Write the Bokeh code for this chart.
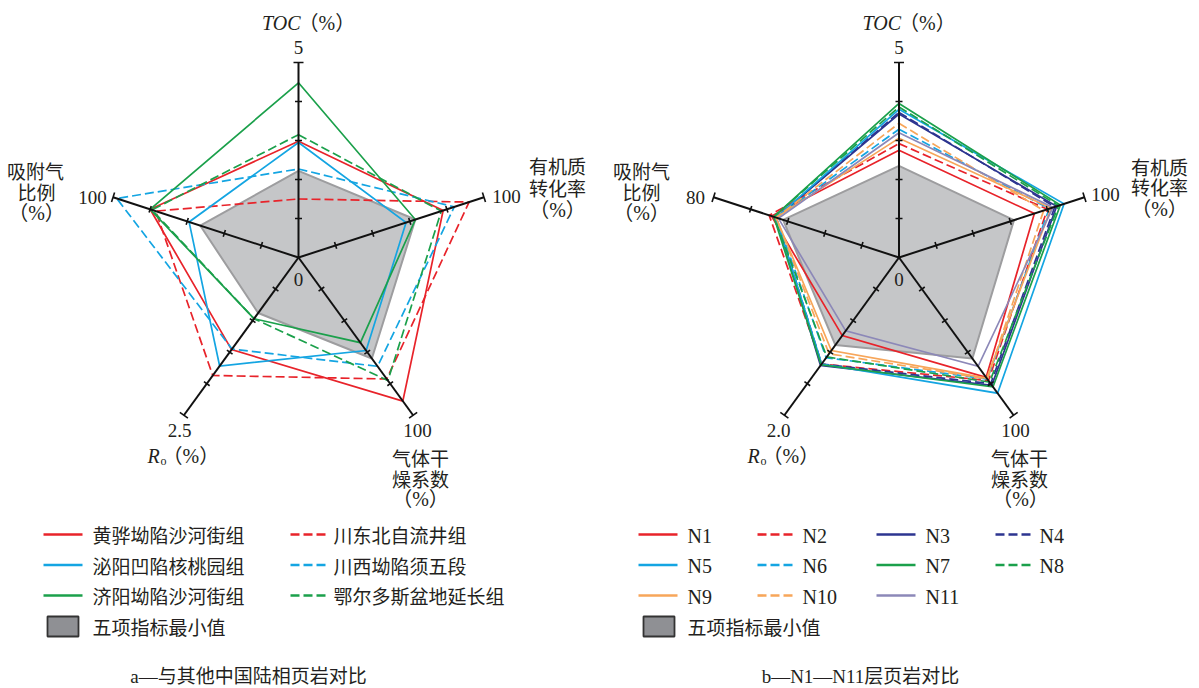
import math
from bokeh.plotting import figure
from bokeh.models import Range1d
from bokeh.core.properties import value
from bokeh.embed import file_html
from bokeh.resources import INLINE

# ---------------- data ----------------
axis_keys = ["TOC", "有机质转化率", "气体干燥系数", "Ro", "吸附气比例"]
axis_max_a = [5, 100, 100, 2.5, 100]
axis_max_b = [5, 100, 100, 2.0, 80]
axis_max_labels_a = ["5", "100", "100", "2.5", "100"]
axis_max_labels_b = ["5", "100", "100", "2.0", "80"]

names_a = ["黄骅坳陷沙河街组", "川东北自流井组", "泌阳凹陷核桃园组",
           "川西坳陷须五段", "济阳坳陷沙河街组", "鄂尔多斯盆地延长组"]
huanghua = [2.98, 78, 91, 1.46, 80]
chuandongbei = [1.5, 92, 77, 1.87, 77]
biyang = [2.95, 58, 59, 1.72, 59]
chuanxi = [2.27, 84, 69, 1.45, 98]
jiyang = [4.48, 63, 54, 0.97, 80]
ordos = [3.15, 77, 78, 0.97, 79]
min_a = [2.22, 63, 64, 0.88, 53]

names_b = ["N1", "N2", "N3", "N4", "N5", "N6", "N7", "N8", "N9", "N10", "N11"]
N1 = [2.75, 73, 76, 0.99, 55]
N2 = [2.92, 80, 78, 1.35, 56]
N3 = [3.68, 85, 81, 1.37, 53]
N4 = [3.72, 84, 80, 1.35, 53]
N5 = [3.80, 89, 86, 1.35, 53]
N6 = [3.29, 81, 77, 1.27, 53]
N7 = [3.95, 87, 82, 1.36, 54]
N8 = [3.86, 86, 79, 1.26, 54]
N9 = [3.06, 82, 76.5, 1.18, 53]
N10 = [3.44, 78, 77, 1.22, 53]
N11 = [3.20, 83, 69, 0.93, 52]
min_b = [2.35, 62, 64, 1.11, 50]

legend_min = "五项指标最小值"
caption_a = "a—与其他中国陆相页岩对比"
caption_b = "b—N1—N11层页岩对比"

# ---------------- styles ----------------
RED = "#e8232a"
BLUE = "#14a5e2"
GREEN = "#1ba04b"
NAVY = "#2d3590"
ORANGE = "#f7a65a"
PURPLE = "#8c88b8"
GRAY_FILL = "#c5c6c8"
GRAY_LINE = "#9d9d9f"
TXT = "#231f20"
DASH = "9 4"
LAT = value("Liberation Serif")
MIX = value("'Liberation Serif', 'Noto Sans CJK SC'")
CJK = value("Noto Sans CJK SC")

series_a = [(huanghua, RED, "solid"), (chuandongbei, RED, DASH),
            (biyang, BLUE, "solid"), (chuanxi, BLUE, DASH),
            (jiyang, GREEN, "solid"), (ordos, GREEN, DASH)]
series_b = [(N1, RED, "solid"), (N2, RED, DASH), (N3, NAVY, "solid"), (N4, NAVY, DASH),
            (N5, BLUE, "solid"), (N6, BLUE, DASH), (N7, GREEN, "solid"), (N8, GREEN, DASH),
            (N9, ORANGE, "solid"), (N10, ORANGE, DASH), (N11, PURPLE, "solid")]

R = 195.0
ANGLES = [90, 18, -54, -126, 162]

p = figure(width=1199, height=688, output_backend="svg", toolbar_location=None,
           x_range=Range1d(0, 1199), y_range=Range1d(688, 0),
           x_axis_location=None, y_axis_location=None,
           min_border=0, min_border_left=0, min_border_right=0,
           min_border_top=0, min_border_bottom=0)
p.outline_line_color = None
p.xgrid.grid_line_color = None
p.ygrid.grid_line_color = None
p.background_fill_color = "white"


def pt(c, frac, ang):
    a = math.radians(ang)
    return c[0] + R * frac * math.cos(a), c[1] - R * frac * math.sin(a)


def poly(c, vals, maxes):
    xs, ys = [], []
    for v, m, ang in zip(vals, maxes, ANGLES):
        x, y = pt(c, v / m, ang)
        xs.append(x)
        ys.append(y)
    return xs, ys


def txt(x, y, s, size=19, align="center", font=LAT, style="normal", baseline="middle"):
    p.text(x=[x], y=[y], text=[s], text_font=font, text_font_size=f"{size}px",
           text_align=align, text_baseline=baseline, text_color=TXT,
           text_font_style=style)


def radar(c, maxes, series, minvals):
    xs, ys = poly(c, minvals, maxes)
    p.patch(xs, ys, fill_color=GRAY_FILL, line_color=GRAY_LINE, line_width=2)
    for vals, col, dash in series:
        xs, ys = poly(c, vals, maxes)
        p.line(xs + xs[:1], ys + ys[:1], line_color=col, line_width=1.7,
               line_dash=dash, line_join="miter")
    x0s, y0s, x1s, y1s = [], [], [], []
    tx0, ty0, tx1, ty1 = [], [], [], []
    for ang in ANGLES:
        ex, ey = pt(c, 1.0, ang)
        x0s.append(c[0]); y0s.append(c[1]); x1s.append(ex); y1s.append(ey)
        a = math.radians(ang)
        px, py = math.sin(a), math.cos(a)
        for f, h in [(0.2, 3.5), (0.4, 3.5), (0.6, 3.5), (0.8, 3.5), (1.0, 5)]:
            x, y = pt(c, f, ang)
            tx0.append(x - h * px); ty0.append(y - h * py)
            tx1.append(x + h * px); ty1.append(y + h * py)
    p.segment(x0s, y0s, x1s, y1s, line_color="#111111", line_width=2)
    p.segment(tx0, ty0, tx1, ty1, line_color="#111111", line_width=1.6)


ca = (298.0, 257.0)
cb = (898.5, 257.0)
radar(ca, axis_max_a, series_a, min_a)
radar(cb, axis_max_b, series_b, min_b)

PS = 20  # size of "（%）"

# ---------------- axis labels ----------------
for c, ml in [(ca, axis_max_labels_a), (cb, axis_max_labels_b)]:
    cx = c[0]
    txt(cx + 2, 22, "TOC", size=20, align="right", style="italic")
    txt(cx, 22, "（%）", size=PS, align="left", font=MIX)
    txt(cx, 47, ml[0])
    txt(cx, 279, "0")

# chart a
txt(506, 196, axis_max_labels_a[1])
txt(557, 165, "有机质", size=19, font=CJK)
txt(557, 187, "转化率", size=19, font=CJK)
txt(557, 209, "（%）", size=PS, font=MIX)
txt(92, 197, axis_max_labels_a[4])
txt(35, 170, "吸附气", size=19, font=CJK)
txt(36, 191, "比例", size=19, font=CJK)
txt(36, 212, "（%）", size=PS, font=MIX)
txt(179, 430, axis_max_labels_a[3])
txt(147, 455, "R", style="italic", align="left", size=20)
txt(160, 460, "o", size=12, align="left")
txt(162, 455, "（%）", size=PS, align="left", font=MIX)
txt(417, 430, axis_max_labels_a[2])
txt(420, 457, "气体干", size=19, font=CJK)
txt(420, 478, "燥系数", size=19, font=CJK)
txt(420, 498, "（%）", size=PS, font=MIX)

# chart b
txt(1105, 194, axis_max_labels_b[1])
txt(1159, 166, "有机质", size=19, font=CJK)
txt(1159, 186, "转化率", size=19, font=CJK)
txt(1159, 208, "（%）", size=PS, font=MIX)
txt(695, 197, axis_max_labels_b[4])
txt(641, 170, "吸附气", size=19, font=CJK)
txt(641, 191, "比例", size=19, font=CJK)
txt(641, 212, "（%）", size=PS, font=MIX)
txt(778, 430, axis_max_labels_b[3])
txt(747, 455, "R", style="italic", align="left", size=20)
txt(760, 460, "o", size=12, align="left")
txt(762, 455, "（%）", size=PS, align="left", font=MIX)
txt(1015, 430, axis_max_labels_b[2])
txt(1019, 457, "气体干", size=19, font=CJK)
txt(1019, 478, "燥系数", size=19, font=CJK)
txt(1020, 498, "（%）", size=PS, font=MIX)

# ---------------- legends ----------------
rows_y = [534, 564.5, 595]


def leg_line(x0, x1, y, col, dash):
    p.line([x0, x1], [y, y], line_color=col, line_width=2.6, line_dash=dash)


cols_a = [(43, 82, 92), (290, 325, 333)]
for i, (name, (vals, col, dash)) in enumerate(zip(names_a, series_a)):
    r, k = i // 2, i % 2
    x0, x1, xt = cols_a[k]
    leg_line(x0, x1, rows_y[r], col, dash)
    txt(xt, rows_y[r], name, size=19, align="left", font=CJK)

cols_b = [(638, 677, 687), (757, 792, 802), (876, 915, 925), (995, 1030, 1039)]
for i, (name, (vals, col, dash)) in enumerate(zip(names_b, series_b)):
    r, k = i // 4, i % 4
    x0, x1, xt = cols_b[k]
    leg_line(x0, x1, rows_y[r], col, dash)
    txt(xt, rows_y[r] + 1, name, size=20, align="left")

for bx, tx in [(47, 92), (643, 687)]:
    p.quad(left=[bx], right=[bx + 31], top=[616], bottom=[636],
           fill_color="#8f9094", line_color="#333333", line_width=1.8)
    txt(tx, 626, legend_min, size=19, align="left", font=CJK)

txt(248, 676, caption_a, size=19, font=MIX)
txt(860, 676, caption_b, size=19, font=MIX)

open("out.html", "w").write(file_html(p, INLINE))
